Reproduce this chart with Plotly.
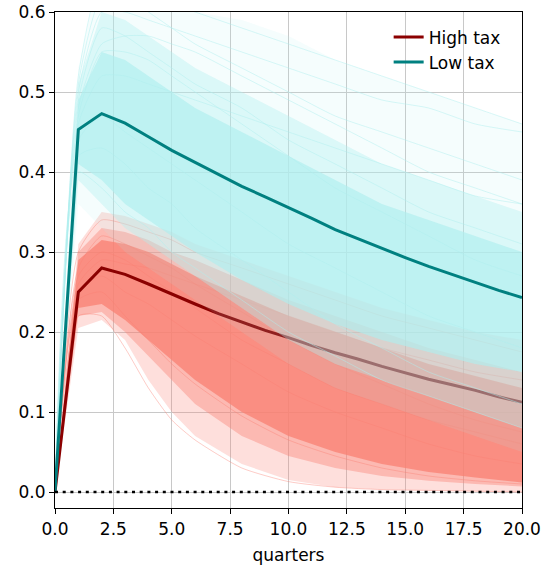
import plotly.graph_objects as go

# ---- data ----
quarters = list(range(21))
high_tax_mean = [0, 0.250, 0.280, 0.272, 0.260, 0.247, 0.235, 0.223, 0.212, 0.202, 0.193,
                 0.183, 0.174, 0.166, 0.157, 0.149, 0.141, 0.134, 0.127, 0.119, 0.112]
low_tax_mean = [0, 0.453, 0.473, 0.461, 0.444, 0.427, 0.412, 0.397, 0.382, 0.369, 0.356,
                0.342, 0.328, 0.316, 0.304, 0.293, 0.282, 0.272, 0.262, 0.252, 0.243]

band_t = [0, 1, 2, 3, 4, 5, 6, 8, 10, 12, 14, 16, 18, 20]

# simulated-path envelopes (outer, middle, core)
low_outer_up = [0, 0.53, 0.66, 0.65, 0.63, 0.61, 0.60, 0.59, 0.57, 0.54, 0.52, 0.50, 0.48, 0.46]
low_outer_lo = [0, 0.36, 0.33, 0.30, 0.28, 0.26, 0.24, 0.20, 0.16, 0.13, 0.11, 0.09, 0.07, 0.05]
low_mid_up = [0, 0.51, 0.60, 0.59, 0.57, 0.55, 0.53, 0.50, 0.47, 0.44, 0.41, 0.39, 0.37, 0.35]
low_mid_lo = [0, 0.39, 0.36, 0.33, 0.31, 0.29, 0.27, 0.23, 0.19, 0.16, 0.14, 0.12, 0.10, 0.08]
low_core_up = [0, 0.49, 0.55, 0.54, 0.52, 0.50, 0.48, 0.45, 0.42, 0.39, 0.36, 0.34, 0.32, 0.30]
low_core_lo = [0, 0.41, 0.39, 0.36, 0.34, 0.32, 0.30, 0.265, 0.235, 0.21, 0.19, 0.175, 0.16, 0.15]

high_outer_up = [0, 0.31, 0.35, 0.345, 0.335, 0.325, 0.31, 0.29, 0.27, 0.25, 0.23, 0.215, 0.20, 0.19]
high_outer_lo = [0, 0.205, 0.215, 0.19, 0.14, 0.10, 0.07, 0.035, 0.015, 0.006, 0.003, 0.002, 0.001, 0.0]
high_mid_up = [0, 0.30, 0.33, 0.325, 0.315, 0.30, 0.29, 0.265, 0.24, 0.22, 0.20, 0.18, 0.165, 0.15]
high_mid_lo = [0, 0.22, 0.225, 0.20, 0.17, 0.14, 0.11, 0.07, 0.045, 0.03, 0.02, 0.014, 0.01, 0.007]
high_core_up = [0, 0.29, 0.315, 0.31, 0.30, 0.285, 0.27, 0.245, 0.22, 0.20, 0.18, 0.16, 0.145, 0.13]
high_core_lo = [0, 0.23, 0.235, 0.215, 0.19, 0.165, 0.14, 0.10, 0.07, 0.05, 0.035, 0.025, 0.018, 0.012]

# a few individual paths
low_paths = [
    [0, 0.52, 0.64, 0.62, 0.60, 0.58, 0.56, 0.53, 0.50, 0.47, 0.45, 0.43, 0.41, 0.39],
    [0, 0.50, 0.60, 0.60, 0.59, 0.58, 0.57, 0.55, 0.53, 0.51, 0.49, 0.48, 0.46, 0.45],
    [0, 0.47, 0.55, 0.55, 0.54, 0.52, 0.50, 0.46, 0.42, 0.38, 0.35, 0.32, 0.29, 0.27],
    [0, 0.44, 0.47, 0.45, 0.43, 0.41, 0.39, 0.35, 0.31, 0.28, 0.25, 0.22, 0.20, 0.18],
    [0, 0.42, 0.43, 0.41, 0.38, 0.36, 0.33, 0.29, 0.25, 0.21, 0.18, 0.15, 0.13, 0.11],
    [0, 0.46, 0.52, 0.52, 0.51, 0.50, 0.49, 0.47, 0.45, 0.43, 0.41, 0.39, 0.37, 0.36],
    [0, 0.40, 0.38, 0.35, 0.33, 0.30, 0.28, 0.24, 0.20, 0.17, 0.14, 0.12, 0.10, 0.08],
    [0, 0.49, 0.58, 0.57, 0.55, 0.53, 0.51, 0.48, 0.44, 0.41, 0.38, 0.35, 0.33, 0.31],
    [0, 0.51, 0.62, 0.63, 0.62, 0.61, 0.60, 0.58, 0.56, 0.54, 0.52, 0.50, 0.48, 0.46],
    [0, 0.48, 0.56, 0.57, 0.57, 0.56, 0.55, 0.52, 0.49, 0.46, 0.43, 0.40, 0.38, 0.36],
]
high_paths = [
    [0, 0.30, 0.34, 0.335, 0.325, 0.315, 0.30, 0.28, 0.26, 0.24, 0.22, 0.205, 0.19, 0.175],
    [0, 0.27, 0.30, 0.29, 0.27, 0.25, 0.23, 0.19, 0.16, 0.13, 0.11, 0.09, 0.075, 0.06],
    [0, 0.24, 0.25, 0.22, 0.19, 0.16, 0.135, 0.095, 0.065, 0.045, 0.03, 0.02, 0.014, 0.01],
    [0, 0.26, 0.29, 0.285, 0.28, 0.27, 0.26, 0.24, 0.22, 0.20, 0.18, 0.165, 0.15, 0.14],
    [0, 0.22, 0.22, 0.18, 0.13, 0.09, 0.065, 0.03, 0.013, 0.006, 0.003, 0.002, 0.001, 0.0],
    [0, 0.28, 0.32, 0.31, 0.295, 0.28, 0.26, 0.225, 0.19, 0.16, 0.135, 0.11, 0.09, 0.075],
    [0, 0.25, 0.27, 0.25, 0.235, 0.215, 0.195, 0.16, 0.125, 0.10, 0.08, 0.06, 0.045, 0.035],
]

RED = "250,128,114"
CYAN = "175,238,238"

fig = go.Figure()


def add_band(up, lo, rgb, alpha):
    fig.add_trace(go.Scatter(
        x=band_t + band_t[::-1], y=up + lo[::-1], mode="lines",
        fill="toself", fillcolor=f"rgba({rgb},{alpha})", line=dict(width=0),
        hoverinfo="skip", showlegend=False))


def add_paths(paths, rgb, alpha):
    for p in paths:
        fig.add_trace(go.Scatter(
            x=band_t, y=p, mode="lines",
            line=dict(color=f"rgba({rgb},{alpha})", width=0.8, shape="spline", smoothing=0.6),
            hoverinfo="skip", showlegend=False))


# high tax simulations
add_band(high_outer_up, high_outer_lo, RED, 0.25)
add_band(high_mid_up, high_mid_lo, RED, 0.4)
add_band(high_core_up, high_core_lo, RED, 0.75)
add_paths(high_paths, RED, 0.5)
fig.add_trace(go.Scatter(x=quarters, y=high_tax_mean, mode="lines", name="High tax",
                         line=dict(color="#8b0000", width=3)))

# low tax simulations
add_band(low_outer_up, low_outer_lo, CYAN, 0.13)
add_band(low_mid_up, low_mid_lo, CYAN, 0.38)
add_band(low_core_up, low_core_lo, CYAN, 0.65)
add_paths(low_paths, CYAN, 0.6)
fig.add_trace(go.Scatter(x=quarters, y=low_tax_mean, mode="lines", name="Low tax",
                         line=dict(color="#008080", width=3)))

# zero line
fig.add_trace(go.Scatter(x=[0, 20], y=[0, 0], mode="lines",
                         line=dict(color="black", width=2.5, dash="3px,4.7px"),
                         hoverinfo="skip", showlegend=False))

axis_common = dict(showline=True, mirror=True, linecolor="black", linewidth=1.2,
                   ticks="outside", ticklen=5, tickwidth=1, tickcolor="black",
                   showgrid=True, gridcolor="#c8c8c8", gridwidth=1, zeroline=False,
                   tickfont=dict(size=17, color="black"), tickformat=".1f",
                   automargin=False)

fig.update_layout(
    width=545, height=569,
    margin=dict(l=55, r=23, t=12, b=61),
    paper_bgcolor="white", plot_bgcolor="white",
    font=dict(family="DejaVu Sans", size=17, color="black"),
    xaxis=dict(range=[0, 20], dtick=2.5,
               title=dict(text="quarters", font=dict(size=17), standoff=11), **axis_common),
    yaxis=dict(range=[-0.02, 0.6], dtick=0.1, **axis_common),
    legend=dict(x=0.965, y=0.985, xanchor="right", yanchor="top",
                bgcolor="rgba(255,255,255,0)", borderwidth=0, font=dict(size=17)),
)

fig.write_html("out.html", config={"displayModeBar": False},
               post_script="document.body.style.margin='0';")
